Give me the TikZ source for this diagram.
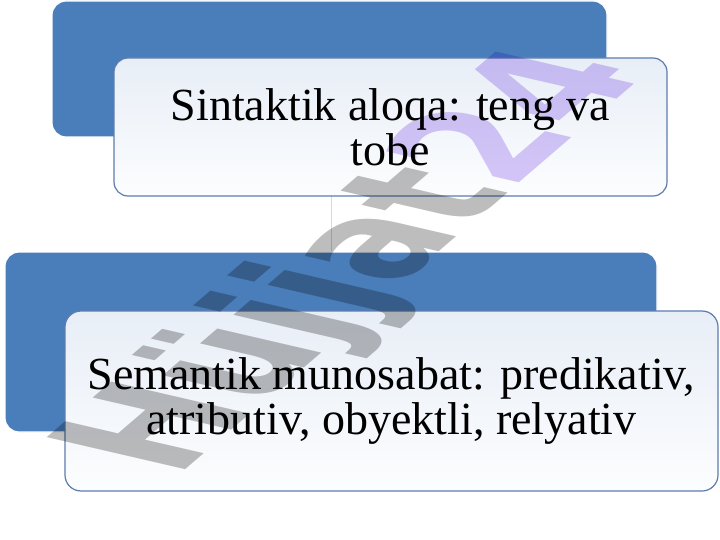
\documentclass[tikz,border=0pt]{standalone}
\usepackage{fontspec}
\setmainfont{Liberation Serif}
\newfontfamily\boxfont{Liberation Serif}
\newfontfamily\wmfont{DejaVu Sans}
\definecolor{boxblue}{HTML}{4A7EBB}
\definecolor{edgeblue}{HTML}{5D7DAE}
\definecolor{overtop}{HTML}{E8EEF7}
\definecolor{overbot}{HTML}{FCFDFE}
\definecolor{linkgray}{HTML}{D3DAE5}
\definecolor{wmgray}{HTML}{BDBDBD}
\definecolor{wmpurple}{HTML}{D8C8F8}
\begin{document}
\begin{tikzpicture}[x=1pt,y=-1pt,
  bluebox/.style={draw=white, line width=1.2pt, fill=boxblue, rounded corners=14pt, inner sep=0pt},
  overbox/.style={draw=edgeblue, line width=1.2pt, top color=overtop, bottom color=overbot,
    rounded corners=14pt, inner sep=0pt, align=center, font=\boxfont\fontsize{46}{45}\selectfont},
  link/.style={draw=linkgray, line width=0.8pt},
  wmark/.style={inner sep=0pt, anchor=base west, transform shape,
    font=\wmfont\bfseries\fontsize{100}{100}\selectfont}]
\useasboundingbox[fill=white] (0,0) rectangle (720,540);
\coordinate (cx) at (331,0);
\node[bluebox, minimum width=555pt, minimum height=136pt] (b1) at (329.5,69) {};
\node[bluebox, minimum width=652pt, minimum height=180pt] (b2) at (331,342) {};
\draw[link] (b1.south -| cx) -- (b2.north -| cx);
\node[overbox, minimum width=553pt, minimum height=138pt] (o1) at (390.5,127)
  {Sintaktik aloqa: teng va\\tobe};
\node[overbox, rounded corners=16pt, minimum width=653pt, minimum height=180pt] (o2) at (391.5,401)
  {Semantik munosabat: predikativ,\\atributiv, obyektli, relyativ};
\begin{scope}[blend mode=multiply]
\node[wmark, cm={0.99,0.851,-1.90,0.440,(176,478)}] (wm) at (0,0)
  {\textcolor{wmgray}{Hüjjat}\textcolor{wmpurple}{24}};
\end{scope}
\end{tikzpicture}
\end{document}
